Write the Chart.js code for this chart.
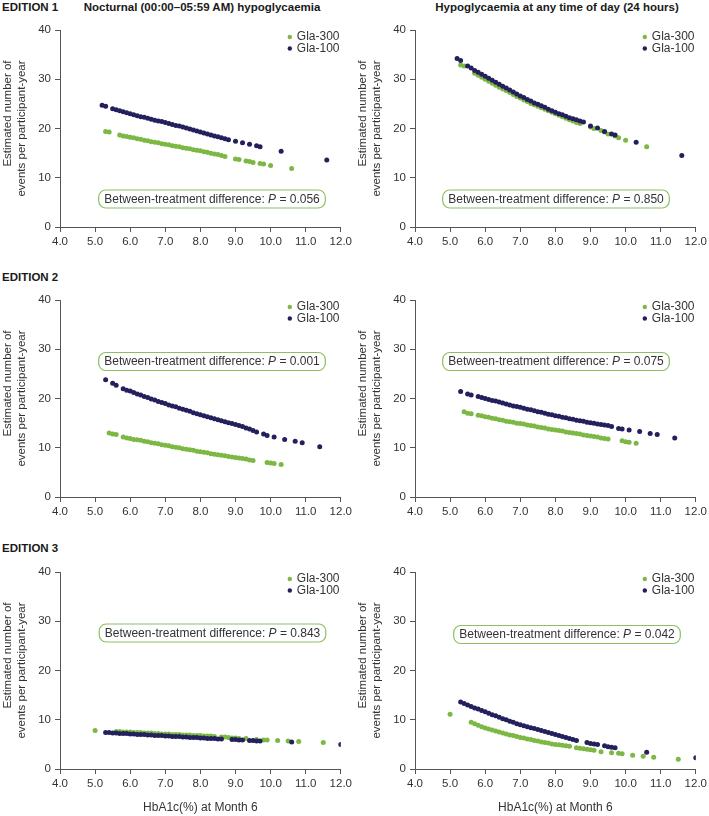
<!DOCTYPE html>
<html>
<head>
<meta charset="utf-8">
<script src="https://cdn.jsdelivr.net/npm/chart.js@4.4.0/dist/chart.umd.min.js"></script>
<style>
  body { margin: 0; background: #fff; width: 709px; height: 816px; position: relative; overflow: hidden;
         font-family: "Liberation Sans", Arial, sans-serif; }
  .panel { position: absolute; width: 355px; }
  .lbl { position: absolute; font-weight: bold; font-size: 11.5px; color: #1a1a1a; white-space: nowrap; line-height: 14px; }
  .ttl { width: 400px; text-align: center; }
</style>
</head>
<body>
<div class="lbl" style="left:2px;top:0px">EDITION 1</div>
<div class="lbl ttl" style="left:2px;top:0px">Nocturnal (00:00–05:59 AM) hypoglycaemia</div>
<div class="lbl ttl" style="left:357px;top:0px">Hypoglycaemia at any time of day (24 hours)</div>
<div class="lbl" style="left:2px;top:270px">EDITION 2</div>
<div class="lbl" style="left:2px;top:541px">EDITION 3</div>

<div class="panel" style="left:0;top:0"><canvas id="p1" width="355" height="270"></canvas></div>
<div class="panel" style="left:355px;top:0"><canvas id="p2" width="355" height="270"></canvas></div>
<div class="panel" style="left:0;top:270px"><canvas id="p3" width="355" height="270"></canvas></div>
<div class="panel" style="left:355px;top:270px"><canvas id="p4" width="355" height="270"></canvas></div>
<div class="panel" style="left:0;top:542px"><canvas id="p5" width="355" height="274"></canvas></div>
<div class="panel" style="left:355px;top:542px"><canvas id="p6" width="355" height="274"></canvas></div>

<script>
// ---- data (HbA1c at month 6 vs estimated events per participant-year) ----
// Edition 1
const e1X300 = [5.3, 5.4, 5.7, 5.8, 5.9, 6.0, 6.1, 6.2, 6.3, 6.4, 6.5, 6.6, 6.7, 6.8, 6.9, 7.0, 7.1, 7.2, 7.3, 7.4, 7.5, 7.6, 7.7, 7.8, 7.9, 8.0, 8.1, 8.2, 8.3, 8.4, 8.5, 8.6, 8.7, 9.0, 9.1, 9.3, 9.4, 9.5, 9.7, 9.8, 10.0, 10.6];
const e1Noct300 = [19.4, 19.3, 18.7, 18.5, 18.4, 18.2, 18.1, 17.9, 17.8, 17.6, 17.5, 17.3, 17.2, 17.1, 16.9, 16.8, 16.7, 16.5, 16.4, 16.3, 16.1, 16.0, 15.9, 15.7, 15.6, 15.5, 15.3, 15.2, 15.0, 14.8, 14.7, 14.5, 14.3, 13.8, 13.7, 13.4, 13.3, 13.1, 12.9, 12.8, 12.5, 11.9];
const e1Any300 = [32.9, 32.7, 31.2, 30.8, 30.4, 30.0, 29.6, 29.2, 28.8, 28.4, 28.0, 27.7, 27.3, 26.9, 26.5, 26.2, 25.8, 25.5, 25.1, 24.8, 24.5, 24.2, 23.9, 23.6, 23.3, 23.0, 22.7, 22.4, 22.1, 21.8, 21.5, 21.2, 21.0, 20.3, 20.0, 19.6, 19.3, 18.9, 18.5, 18.1, 17.6, 16.3];
const e1X100 = [5.2, 5.3, 5.5, 5.6, 5.7, 5.8, 5.9, 6.0, 6.1, 6.2, 6.3, 6.4, 6.5, 6.6, 6.7, 6.8, 6.9, 7.0, 7.1, 7.2, 7.3, 7.4, 7.5, 7.6, 7.7, 7.8, 7.9, 8.0, 8.1, 8.2, 8.3, 8.4, 8.5, 8.6, 8.7, 8.8, 9.0, 9.2, 9.4, 9.6, 9.7, 10.3, 11.6];
const e1Noct100 = [24.7, 24.5, 24.0, 23.8, 23.6, 23.4, 23.2, 23.0, 22.8, 22.6, 22.4, 22.3, 22.1, 21.9, 21.7, 21.5, 21.4, 21.2, 21.0, 20.8, 20.6, 20.5, 20.3, 20.1, 19.9, 19.7, 19.5, 19.3, 19.1, 18.9, 18.7, 18.5, 18.3, 18.1, 17.9, 17.7, 17.4, 17.1, 16.8, 16.5, 16.3, 15.4, 13.6];
const e1Any100 = [34.2, 33.8, 32.7, 32.3, 31.8, 31.4, 31.0, 30.6, 30.2, 29.8, 29.4, 29.0, 28.6, 28.2, 27.8, 27.4, 27.0, 26.6, 26.3, 25.9, 25.6, 25.2, 24.9, 24.6, 24.3, 23.9, 23.6, 23.3, 23.0, 22.8, 22.5, 22.2, 22.0, 21.8, 21.5, 21.3, 20.5, 20.1, 19.4, 18.9, 18.7, 17.2, 14.5];

// Edition 2
const e2X300 = [5.4, 5.5, 5.6, 5.8, 5.9, 6.0, 6.1, 6.2, 6.3, 6.4, 6.5, 6.6, 6.7, 6.8, 6.9, 7.0, 7.1, 7.2, 7.3, 7.4, 7.5, 7.6, 7.7, 7.8, 7.9, 8.0, 8.1, 8.2, 8.3, 8.4, 8.5, 8.6, 8.7, 8.8, 8.9, 9.0, 9.1, 9.2, 9.3, 9.4, 9.5, 9.9, 10.0, 10.1, 10.3];
const e2Noct300 = [13.0, 12.8, 12.7, 12.2, 12.0, 11.9, 11.7, 11.6, 11.5, 11.3, 11.2, 11.0, 10.9, 10.8, 10.6, 10.5, 10.4, 10.2, 10.1, 10.0, 9.8, 9.7, 9.6, 9.5, 9.3, 9.2, 9.1, 9.0, 8.8, 8.7, 8.6, 8.5, 8.4, 8.2, 8.1, 8.0, 7.9, 7.8, 7.7, 7.5, 7.4, 7.0, 6.9, 6.8, 6.6];
const e2Any300 = [17.3, 17.0, 16.9, 16.6, 16.5, 16.3, 16.2, 16.0, 15.9, 15.7, 15.6, 15.4, 15.3, 15.2, 15.0, 14.9, 14.8, 14.6, 14.5, 14.4, 14.2, 14.1, 14.0, 13.8, 13.7, 13.6, 13.5, 13.4, 13.2, 13.1, 13.0, 12.9, 12.8, 12.6, 12.5, 12.4, 12.3, 12.2, 12.0, 11.9, 11.8, 11.4, 11.2, 11.1, 10.9];
const e2X100 = [5.3, 5.5, 5.6, 5.8, 5.9, 6.0, 6.1, 6.2, 6.3, 6.4, 6.5, 6.6, 6.7, 6.8, 6.9, 7.0, 7.1, 7.2, 7.3, 7.4, 7.5, 7.6, 7.7, 7.8, 7.9, 8.0, 8.1, 8.2, 8.3, 8.4, 8.5, 8.6, 8.7, 8.8, 8.9, 9.0, 9.1, 9.2, 9.3, 9.4, 9.5, 9.6, 9.8, 9.9, 10.1, 10.4, 10.7, 10.9, 11.4];
const e2Noct100 = [23.8, 23.1, 22.7, 22.0, 21.7, 21.5, 21.2, 20.9, 20.7, 20.4, 20.2, 19.9, 19.7, 19.4, 19.2, 19.0, 18.7, 18.5, 18.3, 18.0, 17.8, 17.6, 17.4, 17.1, 16.9, 16.7, 16.5, 16.3, 16.1, 15.9, 15.7, 15.5, 15.3, 15.1, 14.9, 14.7, 14.5, 14.3, 14.0, 13.8, 13.5, 13.2, 12.8, 12.5, 12.2, 11.7, 11.3, 11.0, 10.2];
const e2Any100 = [21.4, 20.9, 20.7, 20.4, 20.2, 20.0, 19.8, 19.6, 19.5, 19.3, 19.1, 18.9, 18.7, 18.5, 18.4, 18.2, 18.0, 17.8, 17.7, 17.5, 17.3, 17.2, 17.0, 16.8, 16.7, 16.5, 16.4, 16.2, 16.1, 15.9, 15.8, 15.6, 15.5, 15.4, 15.2, 15.1, 15.0, 14.8, 14.7, 14.6, 14.5, 14.3, 13.9, 13.8, 13.6, 13.3, 12.9, 12.7, 12.0];

// Edition 3
const e3X300 = [5.0, 5.6, 5.7, 5.8, 5.9, 6.0, 6.1, 6.2, 6.3, 6.4, 6.5, 6.6, 6.7, 6.8, 6.9, 7.0, 7.1, 7.2, 7.3, 7.4, 7.5, 7.6, 7.7, 7.8, 7.9, 8.0, 8.1, 8.2, 8.3, 8.4, 8.6, 8.7, 8.8, 8.9, 9.0, 9.1, 9.3, 9.6, 9.8, 9.9, 10.2, 10.5, 10.8, 11.5];
const e3Noct300 = [7.8, 7.6, 7.6, 7.5, 7.5, 7.5, 7.4, 7.4, 7.4, 7.3, 7.3, 7.3, 7.2, 7.2, 7.1, 7.1, 7.1, 7.0, 7.0, 7.0, 6.9, 6.9, 6.9, 6.8, 6.8, 6.8, 6.7, 6.7, 6.7, 6.6, 6.5, 6.5, 6.4, 6.3, 6.3, 6.2, 6.2, 6.0, 5.9, 5.9, 5.8, 5.7, 5.6, 5.4];
const e3Any300 = [11.1, 9.5, 9.2, 8.9, 8.6, 8.3, 8.1, 7.9, 7.7, 7.5, 7.3, 7.1, 6.9, 6.8, 6.6, 6.4, 6.3, 6.1, 6.0, 5.8, 5.7, 5.5, 5.4, 5.3, 5.1, 5.0, 4.9, 4.8, 4.7, 4.6, 4.3, 4.2, 4.1, 4.0, 3.9, 3.8, 3.5, 3.3, 3.2, 3.1, 2.8, 2.6, 2.4, 2.0];
const e3X100 = [5.3, 5.4, 5.5, 5.6, 5.7, 5.8, 5.9, 6.0, 6.1, 6.2, 6.3, 6.4, 6.5, 6.6, 6.7, 6.8, 6.9, 7.0, 7.1, 7.2, 7.3, 7.4, 7.5, 7.6, 7.7, 7.8, 7.9, 8.0, 8.1, 8.2, 8.3, 8.4, 8.5, 8.6, 8.9, 9.0, 9.1, 9.2, 9.4, 9.5, 9.6, 9.7, 10.6, 12.0];
const e3Noct100 = [7.4, 7.4, 7.3, 7.3, 7.2, 7.2, 7.2, 7.1, 7.1, 7.0, 7.0, 7.0, 6.9, 6.9, 6.8, 6.8, 6.8, 6.7, 6.7, 6.6, 6.6, 6.6, 6.5, 6.5, 6.4, 6.4, 6.4, 6.3, 6.3, 6.2, 6.2, 6.2, 6.1, 6.1, 6.0, 6.0, 5.9, 5.9, 5.8, 5.8, 5.7, 5.7, 5.5, 5.0];
const e3Any100 = [13.6, 13.3, 13.0, 12.7, 12.4, 12.2, 11.9, 11.6, 11.3, 11.0, 10.8, 10.5, 10.2, 10.0, 9.7, 9.5, 9.2, 9.0, 8.8, 8.6, 8.4, 8.2, 8.0, 7.8, 7.6, 7.4, 7.2, 7.0, 6.8, 6.6, 6.4, 6.2, 6.0, 5.8, 5.4, 5.2, 5.1, 5.0, 4.7, 4.5, 4.4, 4.3, 3.4, 2.3];

const pValues = ['0.056', '0.850', '0.001', '0.075', '0.843', '0.042'];
const yTicks = [0, 10, 20, 30, 40];
const xRange = [4, 12];
const yTitle = ['Estimated number of', 'events per participant-year'];

const GREEN = '#7cb843';
const NAVY = '#24205d';
const TXT = '#333333';
const AXIS = '#555555';
const FONT = '"Liberation Sans", Arial, sans-serif';

function pts(xs, ys) {
  return xs.map((x, i) => ({ x: x, y: ys[i] }));
}

// legend in the top-right corner, the rounded P-value box and the two-line y title
const panelDecor = {
  id: 'panelDecor',
  afterDatasetsDraw(chart, args, opts) {
    const { ctx, chartArea: a } = chart;
    ctx.save();
    ctx.textBaseline = 'middle';
    ctx.font = '12px ' + FONT;
    chart.data.datasets.forEach((ds, i) => {
      const x = a.right - 51;
      const y = a.top + 7 + i * 11.5;
      ctx.fillStyle = ds.backgroundColor;
      ctx.beginPath();
      ctx.arc(x, y, 2.2, 0, Math.PI * 2);
      ctx.fill();
      ctx.fillStyle = TXT;
      ctx.fillText(ds.label, x + 7, y);
    });

    const parts = [
      ['Between-treatment difference: ', '12px ' + FONT],
      ['P', 'italic 12px ' + FONT],
      [' = ' + opts.p, '12px ' + FONT]
    ];
    let w = 0;
    parts.forEach(p => { ctx.font = p[1]; w += ctx.measureText(p[0]).width; });
    const cx = a.left + opts.dx, cy = a.top + opts.cy;
    const bw = w + 11, bh = 18;
    ctx.beginPath();
    ctx.roundRect(cx - bw / 2, cy - bh / 2, bw, bh, 7);
    ctx.fillStyle = '#fff';
    ctx.fill();
    ctx.lineWidth = 1.2;
    ctx.strokeStyle = '#8cc063';
    ctx.stroke();
    let tx = cx - w / 2;
    ctx.fillStyle = TXT;
    parts.forEach(p => {
      ctx.font = p[1];
      ctx.fillText(p[0], tx, cy + 0.5);
      tx += ctx.measureText(p[0]).width;
    });

    // y-axis title, two rotated lines (first line sits a little higher)
    ctx.font = '11.5px ' + FONT;
    ctx.textAlign = 'center';
    const mid = (a.top + a.bottom) / 2;
    [[8, mid - 15], [21.5, mid]].forEach((pos, i) => {
      ctx.save();
      ctx.translate(pos[0], pos[1]);
      ctx.rotate(-Math.PI / 2);
      ctx.fillText(yTitle[i], 0, 0);
      ctx.restore();
    });
    ctx.restore();
  }
};

function makePanel(id, xs300, ys300, xs100, ys100, p, box, xTitle) {
  const canvas = document.getElementById(id);
  const H = canvas.height;
  new Chart(canvas, {
    type: 'scatter',
    data: {
      datasets: [{
        label: 'Gla-300',
        data: pts(xs300, ys300),
        backgroundColor: GREEN,
        pointRadius: 2.5,
        borderWidth: 0,
        order: 1
      }, {
        label: 'Gla-100',
        data: pts(xs100, ys100),
        backgroundColor: NAVY,
        pointRadius: 2.5,
        borderWidth: 0,
        order: 0
      }]
    },
    options: {
      responsive: false,
      animation: false,
      layout: { padding: { top: 30, right: 11, left: 0, bottom: 0 } },
      plugins: {
        legend: { display: false },
        tooltip: { enabled: false },
        panelDecor: { p: p, dx: box[0], cy: box[1] }
      },
      scales: {
        x: {
          type: 'linear',
          min: xRange[0],
          max: xRange[1],
          afterFit: s => { s.height = H - 227; },
          grid: { drawOnChartArea: false, drawTicks: true, tickLength: 5, color: AXIS },
          border: { display: true, color: AXIS },
          ticks: {
            stepSize: 1,
            padding: 3,
            color: TXT,
            font: { family: FONT, size: 11.5 },
            callback: v => v.toFixed(1)
          },
          title: {
            display: !!xTitle,
            text: 'HbA1c(%) at Month 6',
            color: TXT,
            font: { family: FONT, size: 12 },
            padding: { top: 0, bottom: 1 }
          }
        },
        y: {
          min: yTicks[0],
          max: yTicks[yTicks.length - 1],
          afterFit: s => { s.width = 60; },
          afterBuildTicks: s => { s.ticks = yTicks.map(v => ({ value: v })); },
          grid: { drawOnChartArea: false, drawTicks: true, tickLength: 5, color: AXIS },
          border: { display: true, color: AXIS },
          ticks: { padding: 4, color: TXT, font: { family: FONT, size: 11.5 } }
        }
      }
    },
    plugins: [panelDecor]
  });
}

makePanel('p1', e1X300, e1Noct300, e1X100, e1Noct100, pValues[0], [152, 169], false);
makePanel('p2', e1X300, e1Any300, e1X100, e1Any100, pValues[1], [141, 169], false);
makePanel('p3', e2X300, e2Noct300, e2X100, e2Noct100, pValues[2], [152, 61.5], false);
makePanel('p4', e2X300, e2Any300, e2X100, e2Any100, pValues[3], [141, 61.5], false);
makePanel('p5', e3X300, e3Noct300, e3X100, e3Noct100, pValues[4], [152.5, 61], true);
makePanel('p6', e3X300, e3Any300, e3X100, e3Any100, pValues[5], [152, 62.5], true);
</script>
</body>
</html>
